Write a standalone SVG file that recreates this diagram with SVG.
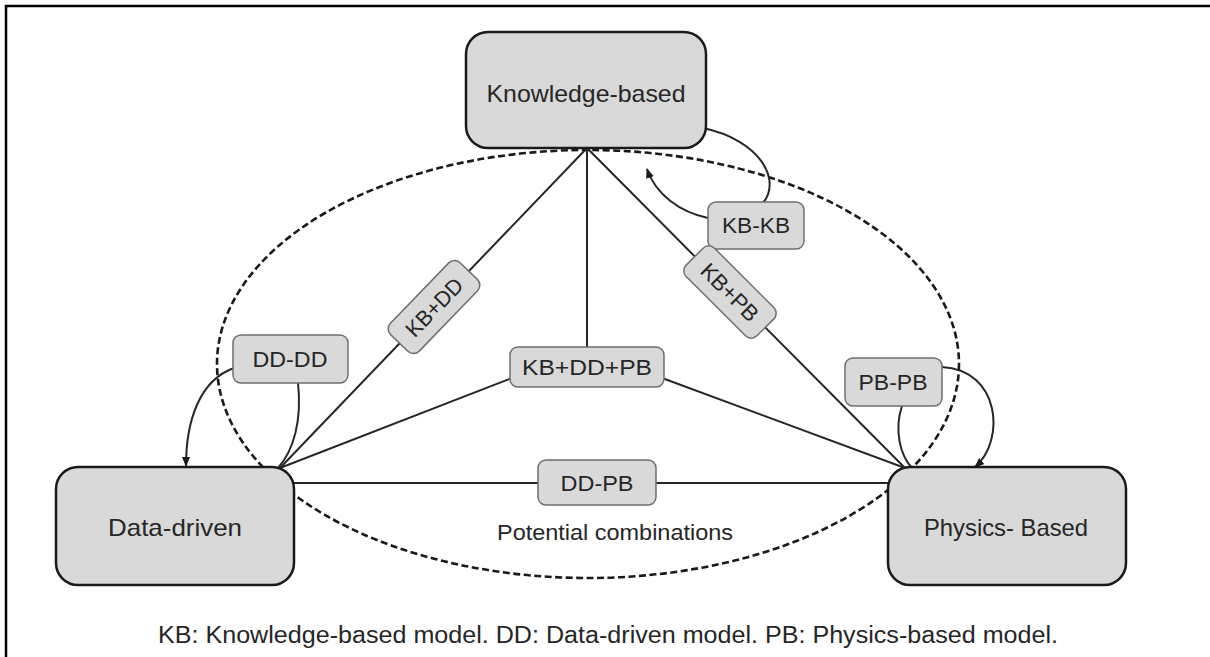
<svg xmlns="http://www.w3.org/2000/svg" width="1210" height="657" viewBox="0 0 1210 657">
  <style>
    .frame { stroke: #000; stroke-width: 2.5; fill: none; }
    .node { fill: #d9d9d9; stroke: #1a1a1a; stroke-width: 2.5; }
    .tag { fill: #d9d9d9; stroke: #6f6f6f; stroke-width: 1.5; }
    .ln { stroke: #262626; stroke-width: 2; fill: none; }
    .ell { stroke: #1a1a1a; stroke-width: 2.6; fill: none; stroke-dasharray: 7 3.5; }
    text { font-family: "Liberation Sans", Arial, sans-serif; fill: #262626; text-anchor: middle; }
    .big { font-size: 24px; }
    .lab { font-size: 22px; }
    .note { font-size: 23px; }
  </style>
  <defs>
    <marker id="arrow" markerWidth="10" markerHeight="10" refX="9" refY="5" orient="auto" markerUnits="userSpaceOnUse">
      <path d="M0,1 L10,5 L0,9 Z" fill="#1a1a1a"/>
    </marker>
  </defs>

  <rect width="1210" height="657" fill="#fff"/>
  <!-- outer frame (top and left edges) -->
  <path class="frame" d="M6,657 V6 H1210"/>

  <!-- dashed region of potential combinations -->
  <ellipse class="ell" cx="588" cy="364" rx="371" ry="214"/>

  <g id="connectors">
    <!-- pairwise links -->
    <line class="ln" x1="587" y1="148" x2="280" y2="468"/>
    <line class="ln" x1="587" y1="148" x2="905" y2="468"/>
    <line class="ln" x1="294" y1="483" x2="888" y2="483"/>
    <!-- three-way link -->
    <line class="ln" x1="587" y1="148" x2="587" y2="347"/>
    <line class="ln" x1="512" y1="378" x2="280" y2="468"/>
    <line class="ln" x1="662" y1="378" x2="905" y2="468"/>
    <!-- self loops -->
    <path class="ln" d="M703,128 C760,140 782,180 763,203"/>
    <path class="ln" d="M708,218 C680,212 656,195 647,169" marker-end="url(#arrow)"/>
    <path class="ln" d="M298,383 C302,420 294,450 278,468"/>
    <path class="ln" d="M234,368 C200,380 186,420 186,466" marker-end="url(#arrow)"/>
    <path class="ln" d="M902,406 C894,430 900,455 912,468"/>
    <path class="ln" d="M942,367 C1000,370 1006,440 975,467" marker-end="url(#arrow)"/>
  </g>

  <g id="knowledge-based">
    <rect class="node" x="466" y="32" width="240" height="116" rx="22"/>
    <text class="big" x="586" y="102" textLength="199" lengthAdjust="spacingAndGlyphs">Knowledge-based</text>
  </g>
  <g id="data-driven">
    <rect class="node" x="56" y="467" width="238" height="118" rx="22"/>
    <text class="big" x="175" y="536" textLength="134" lengthAdjust="spacingAndGlyphs">Data-driven</text>
  </g>
  <g id="physics-based">
    <rect class="node" x="888" y="467" width="238" height="118" rx="22"/>
    <text class="big" x="1006" y="536" textLength="164" lengthAdjust="spacingAndGlyphs">Physics- Based</text>
  </g>

  <g id="kb-kb">
    <rect class="tag" x="708" y="202" width="96" height="47" rx="8"/>
    <text class="lab" x="756" y="233" textLength="68" lengthAdjust="spacingAndGlyphs">KB-KB</text>
  </g>
  <g id="dd-dd">
    <rect class="tag" x="233" y="335" width="115" height="48" rx="8"/>
    <text class="lab" x="290" y="367" textLength="75" lengthAdjust="spacingAndGlyphs">DD-DD</text>
  </g>
  <g id="pb-pb">
    <rect class="tag" x="845" y="358" width="97" height="48" rx="8"/>
    <text class="lab" x="893" y="390" textLength="69" lengthAdjust="spacingAndGlyphs">PB-PB</text>
  </g>
  <g id="dd-pb">
    <rect class="tag" x="538" y="460" width="118" height="45" rx="8"/>
    <text class="lab" x="597" y="491" textLength="73" lengthAdjust="spacingAndGlyphs">DD-PB</text>
  </g>
  <g id="kb-dd-pb">
    <rect class="tag" x="510" y="347" width="154" height="40" rx="8"/>
    <text class="lab" x="587" y="375" textLength="130" lengthAdjust="spacingAndGlyphs">KB+DD+PB</text>
  </g>
  <g id="kb-dd" transform="translate(434,307) rotate(-46)">
    <rect class="tag" x="-50" y="-20" width="100" height="40" rx="8"/>
    <text class="lab" x="0" y="8" textLength="72" lengthAdjust="spacingAndGlyphs">KB+DD</text>
  </g>
  <g id="kb-pb" transform="translate(730,292) rotate(45)">
    <rect class="tag" x="-50" y="-20" width="100" height="40" rx="8"/>
    <text class="lab" x="0" y="8" textLength="72" lengthAdjust="spacingAndGlyphs">KB+PB</text>
  </g>

  <text class="lab" x="615" y="540" textLength="236" lengthAdjust="spacingAndGlyphs">Potential combinations</text>
  <text class="note" x="608" y="643" textLength="900" lengthAdjust="spacingAndGlyphs">KB: Knowledge-based model. DD: Data-driven model. PB: Physics-based model.</text>
</svg>
